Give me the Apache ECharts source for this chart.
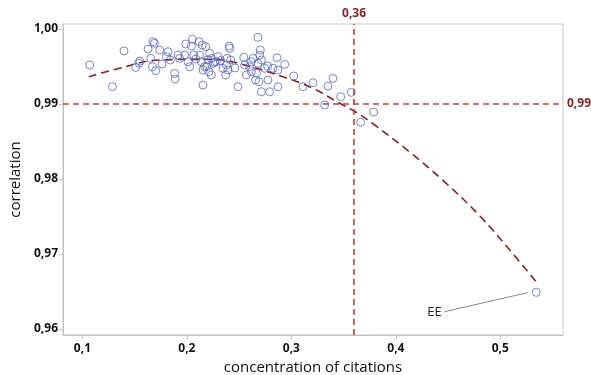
<!DOCTYPE html>
<html>
<head>
<meta charset="utf-8">
<script src="https://cdn.jsdelivr.net/npm/echarts@6/dist/echarts.min.js"></script>
<style>
  html, body { margin: 0; padding: 0; background: #fff; }
  #chart { width: 591px; height: 375px; }
</style>
</head>
<body>
<div id="chart"></div>
<script>
// scatter: concentration of citations vs correlation (one point per field)
const concentration = [
  0.1070, 0.1287, 0.1398, 0.1510, 0.1542, 0.1548, 0.1628, 0.1676, 0.1689, 0.1740,
  0.1654, 0.1670, 0.1701, 0.1762, 0.1819, 0.1804, 0.1842, 0.1883, 0.1888, 0.1915,
  0.1931, 0.1979, 0.1989, 0.2053, 0.2043, 0.2011, 0.2027, 0.2065, 0.2116, 0.2148,
  0.2180, 0.2122, 0.2139, 0.2154, 0.2170, 0.2154, 0.2218, 0.2234, 0.2250, 0.2282,
  0.2211, 0.2234, 0.2298, 0.2345, 0.2378, 0.2393, 0.2403, 0.2410, 0.2384, 0.2419,
  0.2489, 0.2544, 0.2553, 0.2601, 0.2617, 0.2569, 0.2680, 0.2703, 0.2697, 0.2713,
  0.2680, 0.2665, 0.2658, 0.2690, 0.2713, 0.2744, 0.2371, 0.2633, 0.2617, 0.2792,
  0.2776, 0.2862, 0.2936, 0.2872, 0.2824, 0.2773, 0.2872, 0.3022, 0.3111, 0.3207,
  0.3319, 0.3350, 0.3398, 0.3472, 0.3574, 0.3663, 0.3788, 0.5344,
  0.2085, 0.2200, 0.2265, 0.2320, 0.2460, 0.2190
]
const correlation = [
  0.99520, 0.99231, 0.99707, 0.99489, 0.99543, 0.99573, 0.99733, 0.99831, 0.99809, 0.99720,
  0.99609, 0.99497, 0.99444, 0.99533, 0.99697, 0.99631, 0.99587, 0.99407, 0.99333, 0.99653,
  0.99609, 0.99653, 0.99800, 0.99863, 0.99773, 0.99564, 0.99497, 0.99653, 0.99831, 0.99787,
  0.99764, 0.99653, 0.99564, 0.99453, 0.99497, 0.99253, 0.99676, 0.99609, 0.99543, 0.99564,
  0.99431, 0.99387, 0.99631, 0.99476, 0.99520, 0.99453, 0.99773, 0.99743, 0.99609, 0.99587,
  0.99231, 0.99623, 0.99520, 0.99497, 0.99431, 0.99387, 0.99889, 0.99720, 0.99653, 0.99587,
  0.99543, 0.99409, 0.99320, 0.99297, 0.99164, 0.99476, 0.99387, 0.99609, 0.99564, 0.99164,
  0.99320, 0.99617, 0.99529, 0.99453, 0.99476, 0.99507, 0.99231, 0.99373, 0.99231, 0.99284,
  0.98987, 0.99240, 0.99343, 0.99097, 0.99156, 0.98756, 0.98893, 0.96489,
  0.99600, 0.99590, 0.99560, 0.99580, 0.99480, 0.99500
]

// fitted curve
const fitX = [0.1060, 0.1290, 0.1740, 0.2247, 0.2534, 0.2955, 0.3204, 0.3462, 0.3596, 0.3778, 0.4132, 0.4448, 0.4802, 0.5118, 0.5344]
const fitY = [0.99364, 0.99453, 0.99587, 0.99596, 0.99527, 0.99347, 0.99210, 0.99010, 0.98910, 0.98740, 0.98360, 0.97985, 0.97510, 0.97007, 0.96627]

const xTicks = [0.1, 0.2, 0.3, 0.4, 0.5]
const yTicks = [0.96, 0.97, 0.98, 0.99, 1.00]

const refX = 0.36
const refY = 0.99
const eeLabel = 'EE'
const eeArrowFrom = [0.4467, 0.96231]
const eeArrowTo = [0.5258, 0.96484]

const chart = echarts.init(document.getElementById('chart'))

const fontFamily = '"Open Sans", "Noto Sans", sans-serif'
const comma = (v, d) => v.toFixed(d).replace('.', ',')

chart.setOption({
  animation: false,
  backgroundColor: '#fff',
  textStyle: { fontFamily },
  grid: {
    left: 63, right: 28, top: 24, bottom: 40,
    outerBoundsMode: 'none',
    containLabel: false,
    show: true,
    borderColor: '#c8c8c8',
    borderWidth: 1,
  },
  xAxis: {
    type: 'value',
    min: 0.0814,
    max: 0.560,
    name: 'concentration of citations',
    nameLocation: 'middle',
    nameGap: 22,
    nameTextStyle: { fontSize: 15, color: '#111', fontFamily },
    axisLine: { show: true, lineStyle: { color: '#c0c0c0' } },
    axisTick: { show: true, customValues: xTicks, length: 4, lineStyle: { color: '#c0c0c0' } },
    axisLabel: {
      customValues: xTicks,
      formatter: (v) => comma(v, 1),
      color: '#111', fontSize: 12, fontWeight: 'bold', margin: 8,
    },
    splitLine: { show: false },
  },
  yAxis: {
    type: 'value',
    min: 0.9592,
    max: 1.00067,
    name: 'correlation',
    nameLocation: 'middle',
    nameGap: 38,
    nameTextStyle: { fontSize: 15, color: '#111', fontFamily },
    axisLine: { show: true, lineStyle: { color: '#c0c0c0' } },
    axisTick: { show: true, customValues: yTicks, length: 4, lineStyle: { color: '#c0c0c0' } },
    axisLabel: {
      customValues: yTicks,
      formatter: (v) => comma(v, 2),
      color: '#111', fontSize: 12, fontWeight: 'bold', margin: 5,
    },
    splitLine: { show: false },
  },
  series: [
    {
      type: 'line',
      data: fitX.map((x, i) => [x, fitY[i]]),
      smooth: 0.4,
      showSymbol: false,
      z: 1,
      lineStyle: { color: '#8b1e1e', width: 1.6, type: [8, 5] },
      markLine: {
        silent: true,
        symbol: ['none', 'none'],
        lineStyle: { color: '#cc3b3b', width: 1.6, type: [6, 4] },
        label: { color: '#8b1e1e', fontSize: 12, fontWeight: 'bold', fontFamily },
        data: [
          { xAxis: refX, label: { position: 'end', formatter: () => comma(refX, 2), distance: 4 } },
          { yAxis: refY, label: { position: 'end', formatter: () => comma(refY, 2), distance: 4 } },
        ],
      },
    },
    {
      type: 'scatter',
      data: concentration.map((x, i) => [x, correlation[i]]),
      symbol: 'circle',
      symbolSize: 8,
      z: 3,
      itemStyle: { color: 'rgba(255,255,255,0)', borderColor: '#5268c8', borderWidth: 1 },
      markLine: {
        silent: true,
        symbol: ['none', 'arrow'],
        symbolSize: [0, 7],
        lineStyle: { color: '#888', width: 1, type: 'solid' },
        label: {
          show: true, position: 'start', formatter: eeLabel,
          color: '#222', fontSize: 13, fontFamily, distance: 3,
        },
        data: [[{ coord: eeArrowFrom }, { coord: eeArrowTo }]],
      },
    },
  ],
})
</script>
</body>
</html>
